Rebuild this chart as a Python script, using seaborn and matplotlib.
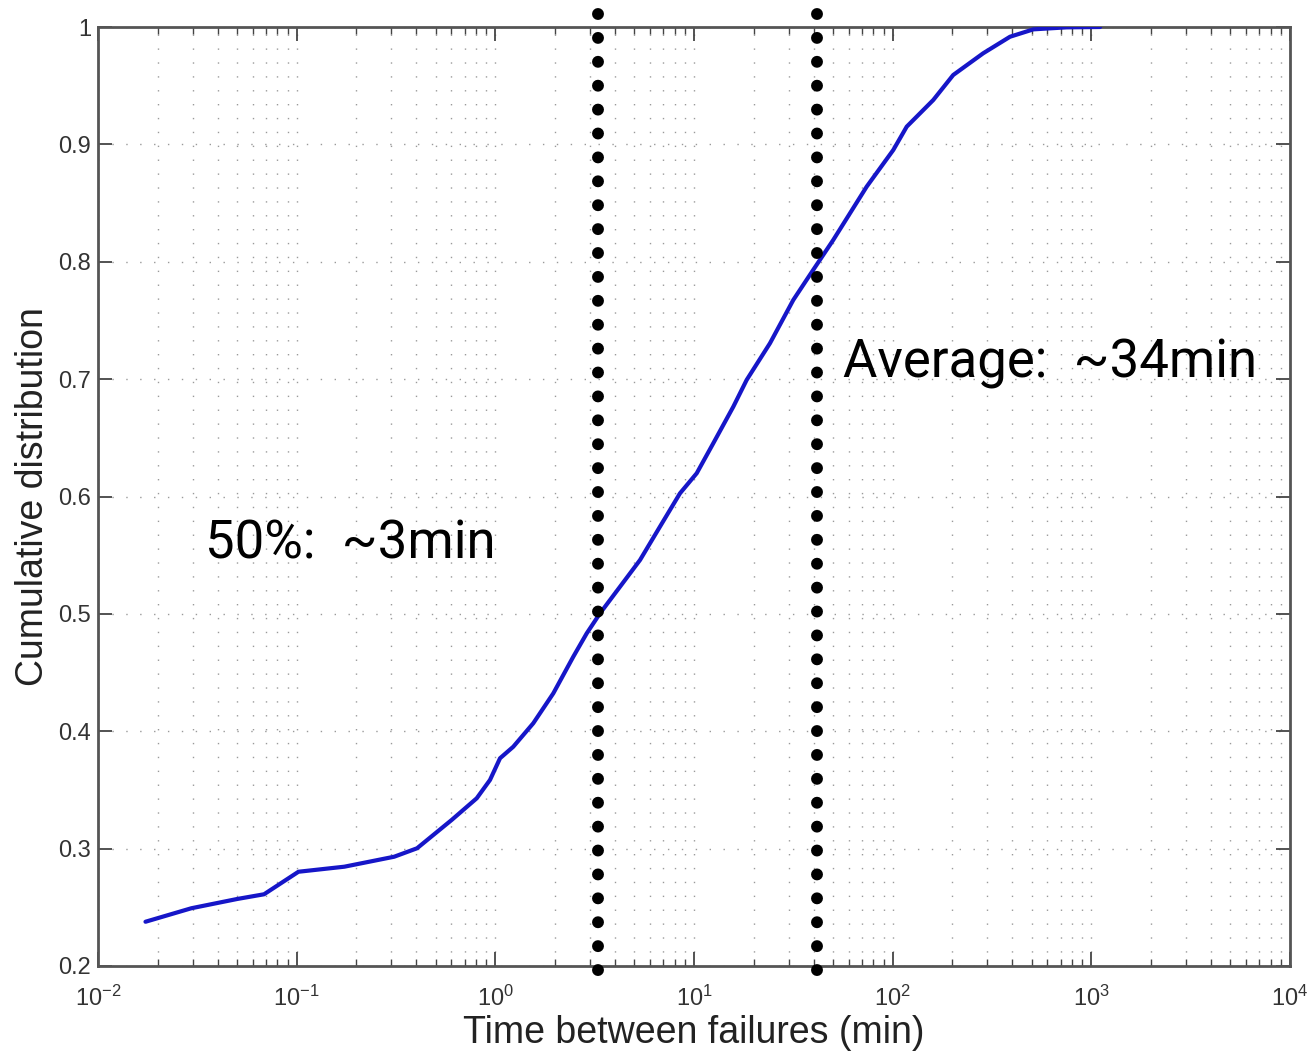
import numpy as np
import pandas as pd
import matplotlib
matplotlib.use("Agg")
import matplotlib.pyplot as plt
import seaborn as sns
from matplotlib.ticker import LogLocator, FixedLocator, FuncFormatter, NullFormatter

# ---- data ----
time_min = [0.01734, 0.0295, 0.0502, 0.0685, 0.1021, 0.1738, 0.3096, 0.4036, 0.6026,
            0.806, 0.940, 1.056, 1.231, 1.552, 1.958, 2.468, 2.884, 3.366, 4.245,
            5.350, 6.74, 8.50, 10.32, 12.50, 15.77, 18.41, 24.11, 31.6, 39.8, 50.2,
            74.0, 100.7, 117.7, 160.1, 201.7, 285.5, 389.6, 511, 751, 1107]
cdf = [0.2377, 0.2492, 0.2571, 0.2611, 0.2803, 0.2846, 0.2931, 0.3003, 0.3244,
       0.3429, 0.3585, 0.3770, 0.3868, 0.4068, 0.4323, 0.4635, 0.4834, 0.5005, 0.5232,
       0.5459, 0.5743, 0.6027, 0.6198, 0.6453, 0.6765, 0.6993, 0.7305, 0.7674, 0.7930, 0.8185,
       0.8640, 0.8952, 0.9151, 0.9378, 0.9591, 0.9776, 0.9917, 0.9980, 0.9997, 1.0]
marker_lines = [3.3, 41.6]
annot_texts = ["50%:  ~3min", "Average:  ~34min"]
annot_x = [0.0346, 56.2]
annot_y = [0.5476, 0.701]
y_ticks = [0.2, 0.3, 0.4, 0.5, 0.6, 0.7, 0.8, 0.9, 1.0]

df = pd.DataFrame({"t": time_min, "c": cdf})

sns.set_theme(style="white")
plt.rcParams["font.family"] = ["Liberation Sans", "DejaVu Sans"]
plt.rcParams["mathtext.fontset"] = "custom"
plt.rcParams["mathtext.rm"] = "Liberation Sans"

fig = plt.figure(figsize=(13.12, 10.53), dpi=100)
ax = fig.add_axes([98/1312, 1 - 966/1053, (1290-98)/1312, (966-27)/1053])

ax.set_xscale("log")
ax.set_xlim(1e-2, 1e4)
ax.set_ylim(0.2, 1.0)

sns.lineplot(data=df, x="t", y="c", ax=ax, color="#1616c8", linewidth=3.0,
             estimator=None, sort=False, zorder=3)

for xv in marker_lines:
    ax.plot([xv, xv], [1.011, 0.194], color="black", linewidth=8.6,
            linestyle=(0, (0.001, 2.0)), dash_capstyle="round",
            clip_on=False, zorder=4)

for txt, xv, yv in zip(annot_texts, annot_x, annot_y):
    ax.text(xv, yv, txt, fontsize=38, family=["Roboto", "DejaVu Sans"], color="black",
            ha="left", va="baseline", zorder=5)

# ticks
ax.xaxis.set_major_locator(LogLocator(base=10, numticks=10))
ax.xaxis.set_minor_locator(LogLocator(base=10, subs=np.arange(2, 10), numticks=100))
ax.xaxis.set_minor_formatter(NullFormatter())
ax.yaxis.set_major_locator(FixedLocator(y_ticks))
ax.yaxis.set_major_formatter(FuncFormatter(lambda v, p: f"{v:g}"))

ax.tick_params(which="major", direction="in", length=10, width=1.3, colors="#444444",
               top=True, right=True, bottom=True, left=True, labelsize=17,
               labelcolor="#333333")
ax.tick_params(axis="x", which="major", pad=14)
ax.tick_params(axis="y", which="major", pad=5)
ax.tick_params(which="minor", direction="in", length=5, width=1.0, colors="#444444",
               top=True, bottom=True)

# grid (MATLAB-like dotted)
ax.grid(True, which="major", axis="both", color="#9a9a9a", linewidth=1.0,
        linestyle=(0, (1, 9)))
ax.grid(True, which="minor", axis="x", color="#9a9a9a", linewidth=1.0,
        linestyle=(0, (1, 9)))
ax.set_axisbelow(True)

for s in ax.spines.values():
    s.set_color("#555555")
    s.set_linewidth(2.0)

ax.set_xlabel("Time between failures (min)", fontsize=27, color="#222222", labelpad=3)
ax.set_ylabel("Cumulative distribution", fontsize=27, color="#222222", labelpad=5)

fig.savefig("out.png", dpi=100, facecolor="white")
